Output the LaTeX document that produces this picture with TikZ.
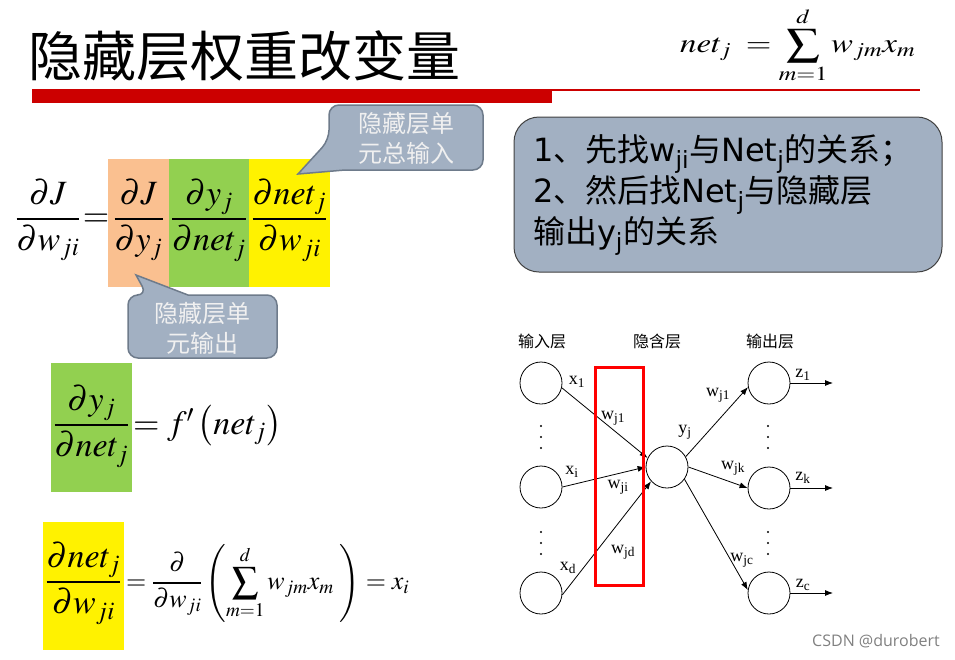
\documentclass[tikz,border=0pt]{standalone}
\usepackage{mathptmx}
\usepackage[no-math]{fontspec}
\setmainfont{Noto Sans CJK SC}
\newfontfamily\dvs{DejaVu Sans}
\newfontfamily\tms{Liberation Serif}
\newfontfamily\wmk{Open Sans}
\usetikzlibrary{arrows.meta}
\definecolor{barred}{RGB}{204,0,0}
\definecolor{peach}{RGB}{250,192,144}
\definecolor{leaf}{RGB}{146,208,80}
\definecolor{slate}{RGB}{162,176,194}
\definecolor{slateline}{RGB}{110,123,139}
\tikzset{
  bigfrac/.style={font=\fontsize{34}{40}\selectfont, inner sep=0pt},
  tipbox/.style={draw=slateline, fill=slate, line width=1.5pt},
  tiptext/.style={font=\fontsize{24}{30}\selectfont, text=white!94!black, align=center, inner sep=0pt},
  unit/.style={circle, draw, minimum size=42pt, inner sep=0pt, line width=0.8pt},
  lbl/.style={font=\tms\fontsize{18}{20}\selectfont, inner sep=0pt},
  layer/.style={font=\fontsize{16}{18}\selectfont, inner sep=0pt},
  arr/.style={-{Latex[length=8pt,width=6pt]}, line width=0.8pt},
}

\begin{document}
\begin{tikzpicture}[x=1pt,y=-1pt]
\useasboundingbox (0,0) rectangle (955,659);

% title
\node[anchor=west, inner sep=0pt, font=\fontsize{54}{56}\selectfont] (title) at (28,56) {隐藏层权重改变量};
\fill[barred] (32,89) rectangle (552,103);
\fill[barred] (552,89) rectangle (920,91);
\node[anchor=west, inner sep=0pt, font=\fontsize{27}{30}\selectfont] (netdef) at (680,45)
  {\scalebox{1.22}[1]{$net_j\; = \displaystyle\sum_{m=1}^{d} w_{jm} x_m$}};

% chain rule
\fill[peach] (108,159) rectangle (169,287);
\fill[leaf] (169,159) rectangle (249,287);
\fill[yellow] (249,159) rectangle (330,287);
\node[bigfrac] (dJdw) at (48,220) {$\displaystyle\frac{\partial J}{\partial w_{ji}}$};
\node[bigfrac] (eqa) at (96,220) {$=$};
\node[bigfrac] (dJdy) at (138.5,220) {$\displaystyle\frac{\partial J}{\partial y_j}$};
\node[bigfrac] (dydn) at (209,220) {$\displaystyle\frac{\partial y_j}{\partial net_j}$};
\node[bigfrac] (dndw) at (289.5,220) {$\displaystyle\frac{\partial net_j}{\partial w_{ji}}$};

% callouts
\draw[tipbox] (298,174) -- (345,170) [rounded corners=10pt] -- (483,170) -- (483,105) -- (329,105) -- (329,140) [sharp corners] -- cycle;
\node[tiptext] (netin) at (406,138) {隐藏层单\\元总输入};
\draw[tipbox] (136,275) -- (188,295) [rounded corners=10pt] -- (277,295) -- (277,358) -- (128,358) -- (128,295) -- (147,295) [sharp corners] -- cycle;
\node[tiptext] (hidout) at (202.5,328) {隐藏层单\\元输出};

\node[draw=black!75, fill=slate, rounded corners=25pt, minimum width=428pt, minimum height=155pt, line width=1pt,
      text width=390pt, inner xsep=19pt, align=left, font=\fontsize{32}{41}\selectfont] (steps) at (728,194.5)
  {{\dvs 1}、先找{\dvs w\textsubscript{ji}}与{\dvs Net\textsubscript{j}}的关系；\\
   {\dvs 2}、然后找{\dvs Net\textsubscript{j}}与隐藏层\\
   输出{\dvs y\textsubscript{j}}的关系};

% derivatives
\fill[leaf] (51,363) rectangle (132,492);
\node[bigfrac] (dydn2) at (91.5,426) {$\displaystyle\frac{\partial y_j}{\partial net_j}$};
\node[bigfrac, anchor=west] (fprime) at (133,426) {$= f'\left(\vrule height 30pt depth 13pt width 0pt net_j\right)$};
\fill[yellow] (43,522) rectangle (124,650);
\node[bigfrac] (dndw2) at (83.5,583) {$\displaystyle\frac{\partial net_j}{\partial w_{ji}}$};
\node[bigfrac, anchor=west, font=\fontsize{26}{30}\selectfont] (chain) at (126,583)
  {$\displaystyle = \frac{\partial}{\partial w_{ji}}\left(\sum_{m=1}^{d} w_{jm} x_m\;\right) = x_i$};

% network
\node[layer] (lin) at (542,341) {输入层};
\node[layer] (lhid) at (657,341) {隐含层};
\node[layer] (lout) at (770,341) {输出层};

\node[unit] (x1) at (541,383) {};
\node[unit] (xi) at (541,487) {};
\node[unit] (xd) at (541,593) {};
\node[unit] (h) at (667,467) {};
\node[unit] (z1) at (769,383) {};
\node[unit] (zk) at (769,488) {};
\node[unit] (zc) at (769,593) {};
\coordinate (e1) at (833,383);
\coordinate (ek) at (833,488);
\coordinate (ec) at (833,593);

\draw[arr] (x1.-13) -- (h.155);
\draw[arr] (xi.east) -- (h.180);
\draw[arr] (xd.-5) -- (h.222);
\draw[arr] (h.29) -- (z1.191);
\draw[arr] (h.east) -- (zk.west);
\draw[arr] (h.-35) -- (zc.172);
\draw[arr] (z1) -- (e1);
\draw[arr] (zk) -- (ek);
\draw[arr] (zc) -- (ec);
\draw[red, line width=3pt] (595,367) rectangle (643,585);

\foreach \y in {426,437,448,532,543,554} {
  \fill (541,\y) circle (1.1pt);
  \fill (768,\y) circle (1.1pt);
}

\node[lbl] (lx1) at (577,382) {x\textsubscript{1}};
\node[lbl] (lxi) at (572,472) {x\textsubscript{i}};
\node[lbl] (lxd) at (568,568) {x\textsubscript{d}};
\node[lbl] (lw1) at (613,418) {w\textsubscript{j1}};
\node[lbl] (lwi) at (618,487) {w\textsubscript{ji}};
\node[lbl] (lwd) at (623,552) {w\textsubscript{jd}};
\node[lbl] (ly) at (685,432) {y\textsubscript{j}};
\node[lbl] (lv1) at (718,395) {w\textsubscript{j1}};
\node[lbl] (lvk) at (733,468) {w\textsubscript{jk}};
\node[lbl] (lvc) at (742,560) {w\textsubscript{jc}};
\node[lbl] (lz1) at (803,375) {z\textsubscript{1}};
\node[lbl] (lzk) at (803,478) {z\textsubscript{k}};
\node[lbl] (lzc) at (803,585) {z\textsubscript{c}};

\node[anchor=east, inner sep=0pt, text=gray, font=\wmk\fontsize{16}{18}\selectfont] (mark) at (940,641) {CSDN @durobert};
\end{tikzpicture}
\end{document}
